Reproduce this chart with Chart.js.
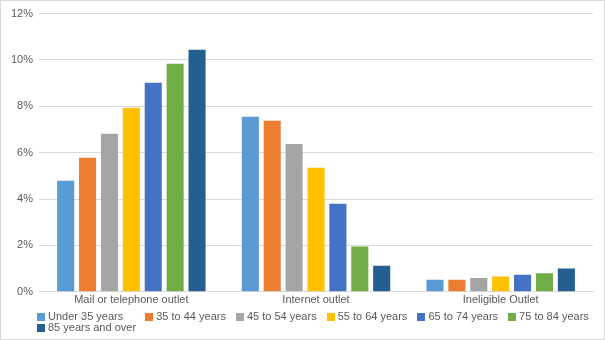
<!DOCTYPE html>
<html>
<head>
<meta charset="utf-8">
<script src="https://cdn.jsdelivr.net/npm/chart.js@4"></script>
<style>
  html, body { margin: 0; padding: 0; background: #fff; }
  .card { position: relative; width: 603px; height: 338px; border: 1px solid #d9d9d9; }
  #legend {
    position: absolute; left: 36px; top: 310px; width: 566px;
    font: 11px 'Liberation Sans', Arial, sans-serif; color: #595959; line-height: 11px;
  }
  #legend span.item { display: inline-block; margin-right: 10px; white-space: nowrap; }
  #legend span.item:first-child { margin-right: 22px; }
  #legend span.box { display: inline-block; width: 8px; height: 8px; margin-right: 3px; vertical-align: -0.5px; }
</style>
</head>
<body>
<div class="card"><canvas id="chart"></canvas><div id="legend"></div></div>
<script>
let categories = ["Mail or telephone outlet", "Internet outlet", "Ineligible Outlet"];
let ageGroups = ["Under 35 years", "35 to 44 years", "45 to 54 years", "55 to 64 years", "65 to 74 years", "75 to 84 years", "85 years and over"];

let under35 = [4.79, 7.55, 0.52];
let age35to44 = [5.78, 7.38, 0.52];
let age45to54 = [6.82, 6.37, 0.60];
let age55to64 = [7.94, 5.35, 0.66];
let age65to74 = [9.02, 3.80, 0.74];
let age75to84 = [9.84, 1.95, 0.80];
let age85plus = [10.44, 1.12, 1.00];

let yTicks = [0, 2, 4, 6, 8, 10, 12];

let colors = ["#5B9BD5", "#ED7D31", "#A5A5A5", "#FFC000", "#4472C4", "#70AD47", "#255E91"];
let series = [under35, age35to44, age45to54, age55to64, age65to74, age75to84, age85plus];

Chart.defaults.font.family = "'Liberation Sans', Arial, sans-serif";
Chart.defaults.font.size = 11;
Chart.defaults.color = "#595959";

function buildLegend() {
    let legendDiv = document.getElementById("legend");
    legendDiv.innerHTML = "";
    ageGroups.forEach((name, i) => {
        legendDiv.innerHTML += `<span class="item"><span class="box" style="background:${colors[i]}"></span>${name}</span>`;
    });
}

let ctx = document.getElementById("chart").getContext("2d");

new Chart(ctx, {
    type: "bar",
    data: {
        labels: categories,
        datasets: series.map((values, i) => ({
            label: ageGroups[i],
            data: values,
            backgroundColor: colors[i],
            categoryPercentage: 0.83,
            barPercentage: 0.78
        }))
    },
    options: {
        responsive: true,
        maintainAspectRatio: false,
        animation: false,
        layout: { padding: { left: 4, right: 11, top: 6, bottom: 30 } },
        plugins: {
            tooltip: { enabled: false },
            legend: { display: false }
        },
        scales: {
            x: {
                grid: { display: false, drawTicks: false },
                border: { color: "#d9d9d9" },
                ticks: { padding: 2, font: { size: 11 } }
            },
            y: {
                min: 0,
                max: 12,
                afterBuildTicks: axis => { axis.ticks = yTicks.map(v => ({ value: v })); },
                grid: { color: "#d9d9d9", drawTicks: false },
                border: { display: false },
                ticks: {
                    padding: 6,
                    callback: v => v + "%"
                }
            }
        }
    }
});

buildLegend();
</script>
</body>
</html>
